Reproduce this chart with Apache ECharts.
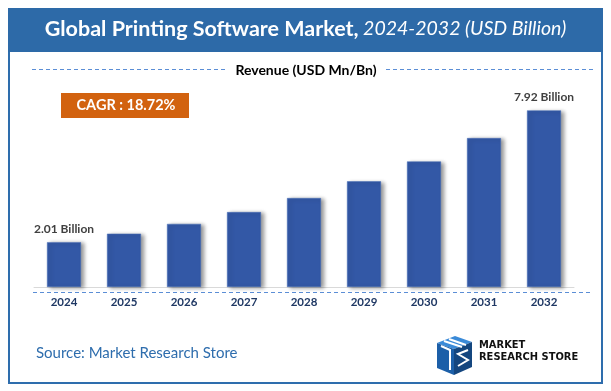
<!DOCTYPE html>
<html>
<head>
<meta charset="utf-8">
<script src="https://cdn.jsdelivr.net/npm/echarts@6/dist/echarts.min.js"></script>
<style>
html,body{margin:0;padding:0;background:#fff;}
#c{width:611px;height:391px;}
</style>
</head>
<body>
<div id="c"></div>
<script>
const categories = ['2024','2025','2026','2027','2028','2029','2030','2031','2032'];
const revenue = [2.01, 2.39, 2.83, 3.36, 3.99, 4.74, 5.63, 6.68, 7.92];
const valueLabels = ['2.01 Billion','','','','','','','','7.92 Billion'];
const titleMain = 'Global Printing Software Market,';
const titleSub = ' 2024-2032 (USD Billion)';
const legendText = 'Revenue (USD Mn/Bn)';
const cagrText = 'CAGR : 18.72%';
const sourceText = 'Source: Market Research Store';

const FONT = 'Lato, "Open Sans", sans-serif';
const chart = echarts.init(document.getElementById('c'), null, {renderer:'canvas'});

const option = {
  animation: false,
  grid: {left: 34, width: 540, top: 108.6, height: 178.4},
  xAxis: {
    type: 'category', data: categories,
    axisLine: {show: true, lineStyle: {color: '#d9d9d9', width: 1}},
    axisTick: {show: false},
    axisLabel: {color: '#1F3864', fontWeight: 'bold', fontSize: 11.5, fontFamily: FONT, margin: 9}
  },
  yAxis: {type: 'value', min: 0, max: 8, show: false, splitLine: {show: false}},
  series: [{
    type: 'bar', data: revenue, barWidth: 34,
    itemStyle: {
      color: '#3358A6',
      borderColor: '#4a70b8', borderWidth: 0.5,
      shadowColor: 'rgba(0,0,0,0.4)', shadowBlur: 4, shadowOffsetX: 3, shadowOffsetY: 1
    },
    label: {
      show: true, position: 'top', distance: 7,
      formatter: p => valueLabels[p.dataIndex],
      color: '#404040', fontWeight: 'bold', fontSize: 12, fontFamily: FONT
    }
  }],
  graphic: [
    {type: 'rect', shape: {x: 9, y: 9, width: 593, height: 374}, style: {fill: 'none', stroke: '#2E6DAD', lineWidth: 2}, z: 10},
    {type: 'rect', shape: {x: 8, y: 8, width: 595, height: 44}, style: {fill: '#2D6AA8'}, z: 11},
    {type: 'text', left: 'center', top: 18, z: 12, style: {
      rich: {
        a: {fill: '#fff', fontWeight: 'bold', fontSize: 21.5, fontFamily: FONT},
        b: {fill: '#fff', fontStyle: 'italic', fontSize: 19.5, fontFamily: FONT}
      },
      text: '{a|' + titleMain + '}{b|' + titleSub + '}'
    }},
    {type: 'line', shape: {x1: 32, y1: 69.5, x2: 225, y2: 69.5}, style: {stroke: '#5B8ED6', lineWidth: 1, lineDash: [4, 3]}},
    {type: 'line', shape: {x1: 386, y1: 69.5, x2: 593, y2: 69.5}, style: {stroke: '#5B8ED6', lineWidth: 1, lineDash: [4, 3]}},
    {type: 'text', x: 306, y: 70, style: {text: legendText, fill: '#000', fontWeight: 'bold', fontSize: 14, fontFamily: FONT, textAlign: 'center', textVerticalAlign: 'middle'}},
    {type: 'rect', shape: {x: 61, y: 93, width: 128, height: 25}, style: {fill: '#D2620F'}},
    {type: 'text', x: 126, y: 105.5, style: {text: cagrText, fill: '#fff', fontWeight: 'bold', fontSize: 14.5, fontFamily: FONT, textAlign: 'center', textVerticalAlign: 'middle'}},
    {type: 'line', shape: {x1: 33, y1: 292.5, x2: 593, y2: 292.5}, style: {stroke: '#5B8ED6', lineWidth: 1, lineDash: [4, 3]}},
    {type: 'text', x: 36, y: 353, style: {text: sourceText, fill: '#2E6DAD', fontSize: 15, fontFamily: FONT, textVerticalAlign: 'middle'}},
    {type: 'polygon', shape: {points: [[437,343],[455,336],[472,342],[454,349]]}, style: {fill: '#3A8AD8'}},
    {type: 'polygon', shape: {points: [[437,343],[454,349],[454,375],[437,368]]}, style: {fill: '#1C5FA8'}},
    {type: 'polygon', shape: {points: [[454,349],[472,342],[472,367],[454,375]]}, style: {fill: '#14467F'}},
    {type: 'polyline', shape: {points: [[441,346],[450,350],[450,370]]}, style: {stroke: '#fff', lineWidth: 2, fill: 'none'}},
    {type: 'polyline', shape: {points: [[444,341],[462,347]]}, style: {stroke: '#fff', lineWidth: 2}},
    {type: 'polyline', shape: {points: [[449,339],[466,345]]}, style: {stroke: '#fff', lineWidth: 2}},
    {type: 'polyline', shape: {points: [[468,350],[458,354],[468,360],[458,366]]}, style: {stroke: '#fff', lineWidth: 2, fill: 'none'}},
    {type: 'text', x: 479, y: 345, style: {text: 'MARKET', fill: '#111', fontWeight: 'bold', fontSize: 11, fontFamily: '"Liberation Sans Narrow", "DejaVu Sans Condensed", sans-serif', textVerticalAlign: 'middle'}},
    {type: 'text', x: 479, y: 357, style: {text: 'RESEARCH STORE', fill: '#111', fontWeight: 'bold', fontSize: 11, fontFamily: '"Liberation Sans Narrow", "DejaVu Sans Condensed", sans-serif', textVerticalAlign: 'middle'}}
  ]
};
chart.setOption(option);
</script>
</body>
</html>
